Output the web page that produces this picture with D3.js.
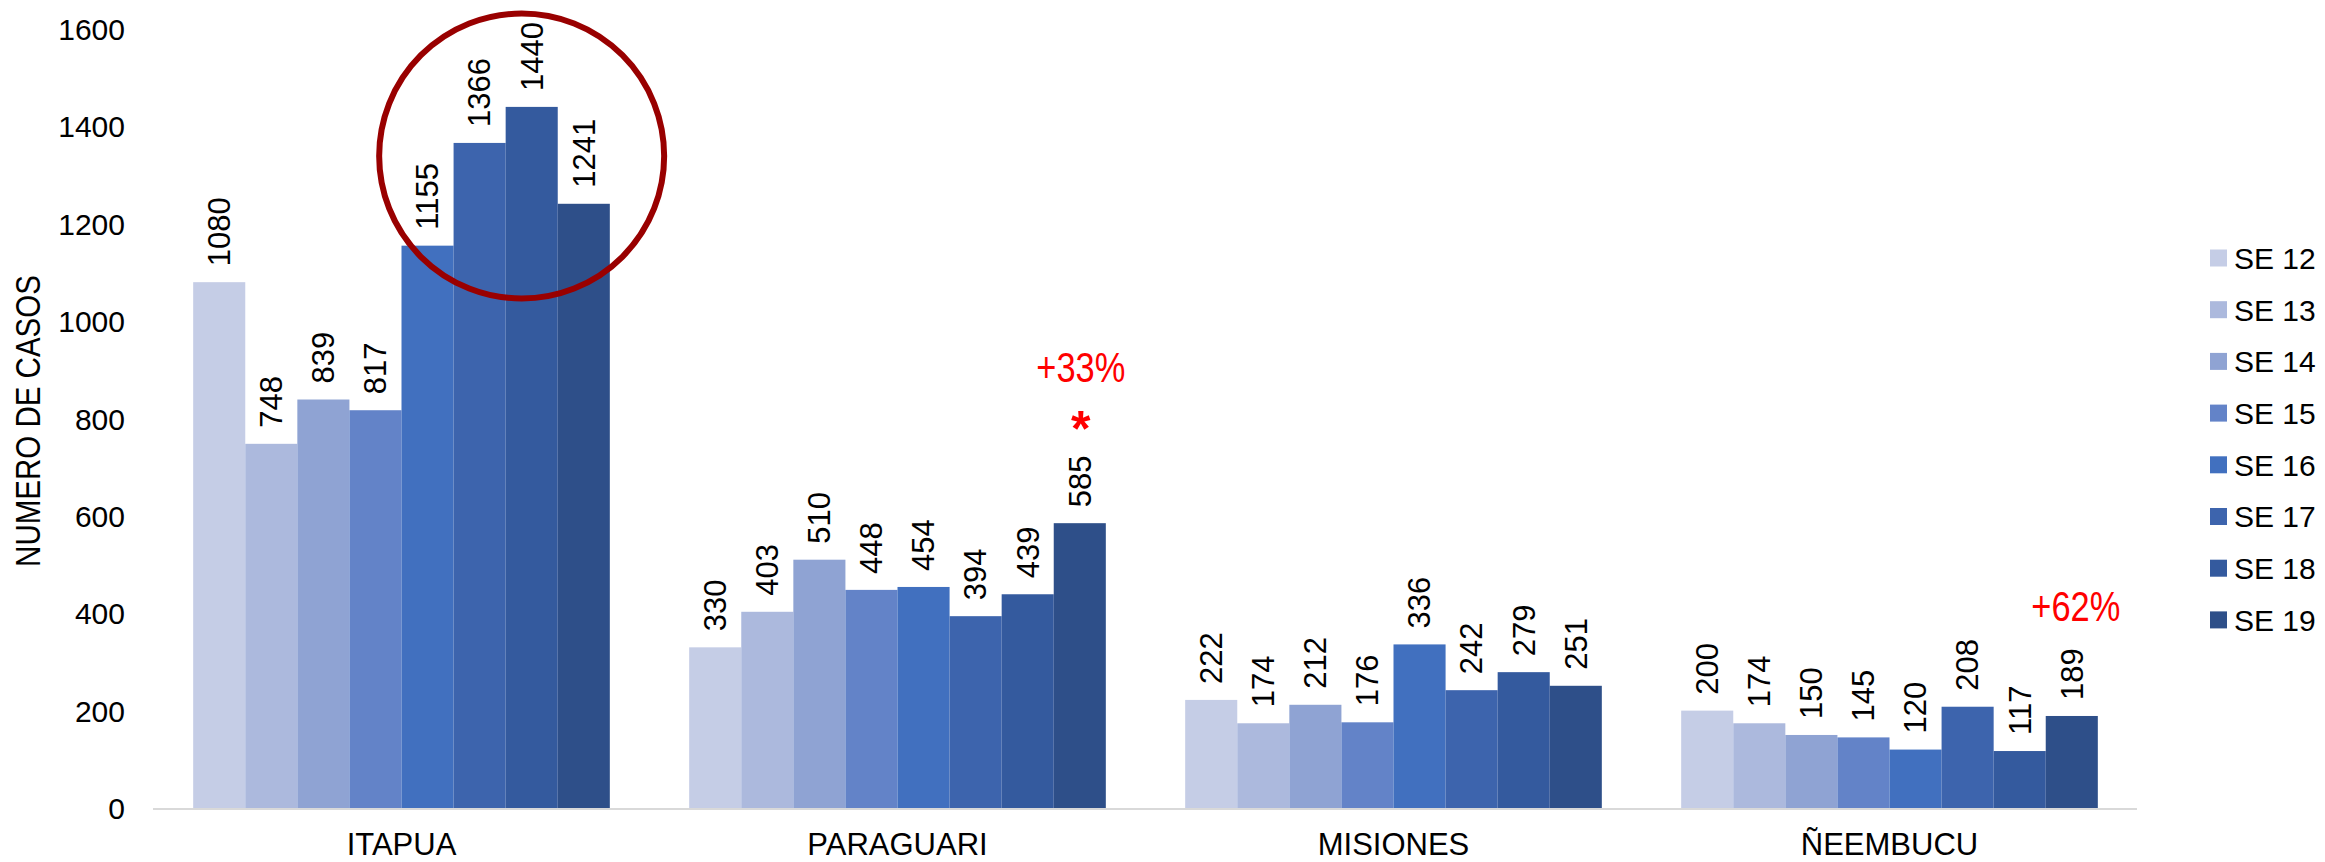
<!DOCTYPE html>
<html>
<head>
<meta charset="utf-8">
<script src="https://cdn.jsdelivr.net/npm/d3@7"></script>
<style>
  html, body { margin: 0; padding: 0; background: #fff; }
  svg { display: block; }
</style>
</head>
<body>
<svg id="chart" width="2325" height="862"></svg>
<script>
const categories = ["ITAPUA", "PARAGUARI", "MISIONES", "ÑEEMBUCU"];
const seriesNames = ["SE 12", "SE 13", "SE 14", "SE 15", "SE 16", "SE 17", "SE 18", "SE 19"];
const itapua    = [1080, 748, 839, 817, 1155, 1366, 1440, 1241];
const paraguari = [330, 403, 510, 448, 454, 394, 439, 585];
const misiones  = [222, 174, 212, 176, 336, 242, 279, 251];
const neembucu  = [200, 174, 150, 145, 120, 208, 117, 189];
const yTicks = [0, 200, 400, 600, 800, 1000, 1200, 1400, 1600];
const colors = ["#C5CDE6", "#ACB9DD", "#8FA3D3", "#6383C8", "#4170BF", "#3D64AD", "#345A9E", "#2E4F89"];
const annotations = [
  { category: "PARAGUARI", series: "SE 19", text: "+33%", star: true },
  { category: "ÑEEMBUCU", series: "SE 19", text: "+62%", star: false }
];
const highlightCategory = "ITAPUA";
const highlightSeries = ["SE 16", "SE 17", "SE 18", "SE 19"];

const valuesByCat = [itapua, paraguari, misiones, neembucu];
const data = categories.map((c, i) => ({ category: c, values: seriesNames.map((s, j) => ({ series: s, value: valuesByCat[i][j] })) }));

const svg = d3.select("#chart");
const baseFont = "'Liberation Sans', Arial, sans-serif";
const narrow = 0.82; // emulate a condensed face

const x0 = d3.scaleBand().domain(categories).range([153.5, 2137.5]).paddingInner(0.16).paddingOuter(0.08);
const x1 = d3.scaleBand().domain(seriesNames).range([0, x0.bandwidth()]).padding(0);
const y = d3.scaleLinear().domain([0, 1600]).range([808, 29]);
const color = d3.scaleOrdinal().domain(seriesNames).range(colors);

// Y tick labels (axis without line/ticks)
const yAxis = svg.append("g").attr("transform", "translate(125,0)")
  .call(d3.axisLeft(y).tickValues(yTicks).tickSize(0).tickPadding(0).tickFormat(d3.format("d")));
yAxis.select(".domain").remove();
yAxis.selectAll("text").attr("font-family", baseFont).attr("font-size", 30).attr("fill", "#000").attr("dy", "0.35em");

// Y title
svg.append("text")
  .attr("transform", `translate(27,421) rotate(-90) scale(${narrow},1)`)
  .attr("text-anchor", "middle").attr("dy", "0.35em")
  .attr("font-family", baseFont).attr("font-size", 36).attr("fill", "#000")
  .text("NUMERO DE CASOS");

// Bars
const groups = svg.append("g").selectAll("g").data(data).join("g")
  .attr("transform", d => `translate(${x0(d.category)},0)`);
groups.selectAll("rect").data(d => d.values).join("rect")
  .attr("x", d => x1(d.series))
  .attr("y", d => y(d.value))
  .attr("width", x1.bandwidth())
  .attr("height", d => y(0) - y(d.value))
  .attr("fill", d => color(d.series));

// Value labels
groups.selectAll("text.val").data(d => d.values).join("text")
  .attr("class", "val")
  .attr("transform", d => `translate(${x1(d.series) + x1.bandwidth() / 2},${y(d.value) - 16}) rotate(-90)`)
  .attr("dy", "0.35em")
  .attr("text-anchor", "start")
  .attr("font-family", baseFont).attr("font-size", 31).attr("fill", "#000")
  .text(d => d.value);

// X axis baseline
svg.append("line").attr("x1", 153).attr("x2", 2137).attr("y1", y(0) + 1).attr("y2", y(0) + 1)
  .attr("stroke", "#D9D9D9").attr("stroke-width", 2);

// Category labels
const xAxis = svg.append("g").attr("transform", `translate(0,${y(0)})`)
  .call(d3.axisBottom(x0).tickSize(0).tickPadding(0));
xAxis.select(".domain").remove();
xAxis.selectAll("text").attr("font-family", baseFont).attr("font-size", 31).attr("fill", "#000")
  .attr("dy", 0).attr("y", 47);

// Annotations
annotations.forEach(a => {
  const cx = x0(a.category) + x1(a.series) + x1.bandwidth() / 2;
  if (a.star) {
    svg.append("text").attr("transform", `translate(${cx + 1},367) scale(${narrow},1)`).attr("dy", "0.35em")
      .attr("text-anchor", "middle").attr("font-family", baseFont).attr("font-size", 42).attr("fill", "#FF0000")
      .text(a.text);
    svg.append("text").attr("x", cx + 1).attr("y", 446)
      .attr("text-anchor", "middle").attr("font-family", baseFont).attr("font-weight", "bold")
      .attr("font-size", 50).attr("fill", "#FF0000")
      .text("*");
  } else {
    svg.append("text").attr("transform", `translate(${cx + 4},606) scale(${narrow},1)`).attr("dy", "0.35em")
      .attr("text-anchor", "middle").attr("font-family", baseFont).attr("font-size", 42).attr("fill", "#FF0000")
      .text(a.text);
  }
});

// Highlight circle around ITAPUA SE16-SE19
{
  const xs = highlightSeries.map(s => x0(highlightCategory) + x1(s));
  const left = d3.min(xs), right = d3.max(xs) + x1.bandwidth();
  const cx = (left + right) / 2 + 16;
  svg.append("ellipse").attr("cx", cx).attr("cy", 156).attr("rx", 142.5).attr("ry", 142.5)
    .attr("fill", "none").attr("stroke", "#990000").attr("stroke-width", 6);
}

// Legend
const legend = svg.append("g").selectAll("g").data(seriesNames).join("g")
  .attr("transform", (d, i) => `translate(2210,${258 + i * 51.7})`);
legend.append("rect").attr("x", 0).attr("y", -8.5).attr("width", 17).attr("height", 17).attr("fill", d => color(d));
legend.append("text").attr("x", 24).attr("y", 0).attr("dy", "0.36em")
  .attr("font-family", baseFont).attr("font-size", 30).attr("fill", "#000").text(d => d);
</script>
</body>
</html>
